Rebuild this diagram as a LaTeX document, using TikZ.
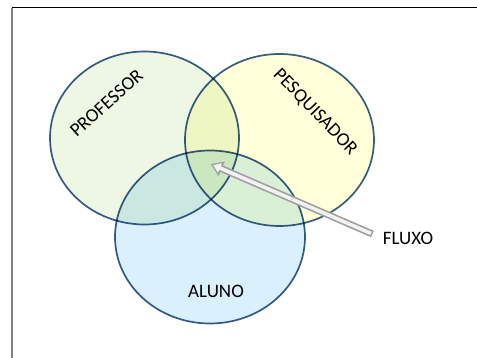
\documentclass[tikz,border=0pt]{standalone}
\usepackage{fontspec}
\setmainfont{Carlito}
\usepackage{xcolor}
\usetikzlibrary{arrows.meta, shapes.geometric}

\definecolor{rim}{RGB}{56,93,138}
\definecolor{profcol}{RGB}{238,246,228}
\definecolor{pesqcol}{RGB}{255,255,217}
\definecolor{alunocol}{RGB}{218,240,252}
\definecolor{flowgray}{RGB}{160,160,160}
\definecolor{flowfill}{RGB}{242,242,242}

\begin{document}
\begin{tikzpicture}[x=1pt, y=1pt,
    setshape/.style={ellipse, draw=rim, line width=1.7, inner sep=0pt, blend mode=multiply},
    settext/.style={inner sep=1pt, font=\fontsize{19}{22}\selectfont},
    flowout/.style={flowgray, line width=7, -{Triangle[length=12pt, width=15pt]}, shorten <=10pt},
    flowin/.style={flowfill, line width=3.6, -{Triangle[length=7.5pt, width=9.5pt]}, shorten <=11.5pt, shorten >=2.6pt}]
                        \useasboundingbox (0,0) rectangle (477,358);

                        % frame
                        \coordinate (corner) at (12,350);
                        \draw[line width=1] (corner) -- (477,350);
                        \draw[gray, line width=1.4] (corner) -- (12,0);

                        % sets
                        \node[setshape, fill=profcol, minimum width=189, minimum height=173] (prof) at (144.5,220) {};
                        \node[setshape, fill=pesqcol, minimum width=189, minimum height=172] (pesq) at (279.5,218) {};
                        \node[setshape, fill=alunocol, minimum width=190, minimum height=173] (aluno) at (210,121) {};

                        % labels
                        \node[settext, rotate=42] (proftext) at (106.5,255) {PROFESSOR};
                        \node[settext, rotate=-46] (pesqtext) at (315,246) {PESQUISADOR};
                        \node[settext] (alunotext) at (216,67) {ALUNO};
                        \node[settext] (fluxo) at (408,120) {FLUXO};

                        % flow arrow
                        \coordinate (fluxtip) at (210.7,194);
                        \draw[flowout] (fluxo.west) -- (fluxtip);
                        \draw[flowin] (fluxo.west) -- (fluxtip);
                    \end{tikzpicture}
\end{document}
